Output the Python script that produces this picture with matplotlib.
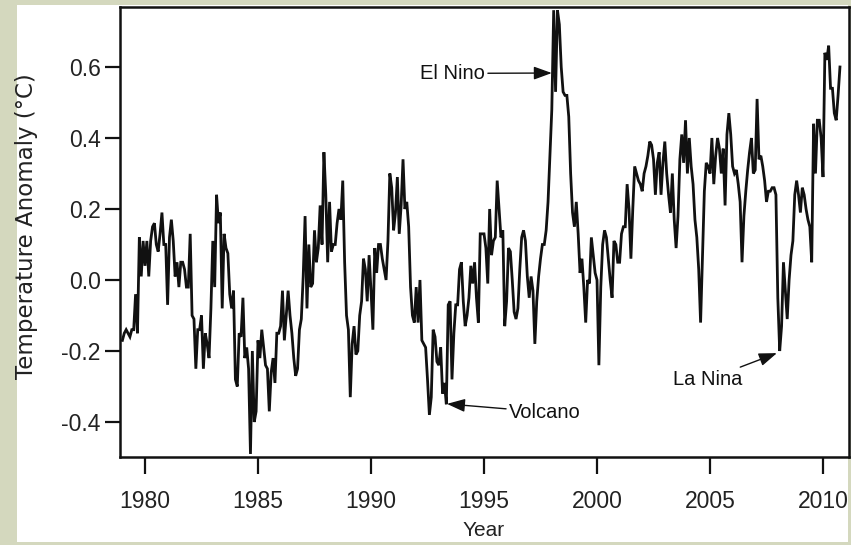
import numpy as np
import matplotlib
matplotlib.use("Agg")
import matplotlib.pyplot as plt
from matplotlib.patches import Rectangle

# Monthly temperature anomalies (deg C), Jan 1979 onward
anom_1979_1989 = [
    -0.17, -0.15, -0.14, -0.15, -0.16, -0.14, -0.14, -0.04, -0.15, 0.12, 0.01, 0.11,
    0.04, 0.11, 0.01, 0.11, 0.15, 0.16, 0.10, 0.08, 0.13, 0.19, 0.10, 0.10,
    -0.07, 0.12, 0.17, 0.11, 0.01, 0.05, -0.02, 0.05, 0.05, 0.03, -0.02, -0.02,
    0.13, -0.10, -0.11, -0.25, -0.14, -0.14, -0.10, -0.25, -0.15, -0.18, -0.22, -0.08,
    0.11, -0.02, 0.24, 0.16, 0.19, -0.08, 0.13, 0.09, 0.075, -0.04, -0.08, -0.03,
    -0.28, -0.30, -0.15, -0.16, -0.05, -0.22, -0.19, -0.25, -0.49, -0.20, -0.40, -0.37,
    -0.17, -0.22, -0.14, -0.19, -0.24, -0.25, -0.37, -0.26, -0.22, -0.29, -0.15, -0.15,
    -0.13, -0.03, -0.17, -0.10, -0.03, -0.10, -0.15, -0.22, -0.27, -0.25, -0.14, -0.11,
    0.01, 0.18, -0.08, 0.10, -0.02, -0.01, 0.14, 0.05, 0.09, 0.21, 0.10, 0.36,
    0.24, 0.05, 0.22, 0.08, 0.10, 0.10, 0.16, 0.20, 0.17, 0.28, 0.05, -0.10,
    -0.14, -0.33, -0.18, -0.13, -0.21, -0.20, -0.10, -0.06, 0.06, 0.03, -0.06, 0.07,
]
anom_1990_1999 = [
    -0.03, -0.14, 0.09, 0.02, 0.10, 0.10, 0.06, 0.03, 0.00, 0.11, 0.30, 0.26,
    0.14, 0.19, 0.29, 0.13, 0.21, 0.34, 0.20, 0.22, 0.15, -0.02, -0.10, -0.12,
    -0.02, -0.12, 0.00, -0.17, -0.18, -0.19, -0.28, -0.38, -0.33, -0.14, -0.16, -0.23,
    -0.24, -0.19, -0.32, -0.29, -0.35, -0.07, -0.06, -0.28, -0.15, -0.07, -0.07, 0.03,
    0.05, -0.06, -0.13, -0.10, -0.05, 0.04, -0.01, 0.05, -0.05, -0.12, 0.13, 0.13,
    0.13, 0.09, -0.01, 0.20, 0.07, 0.11, 0.12, 0.28, 0.20, 0.12, 0.14, -0.13,
    -0.06, 0.09, 0.08, 0.00, -0.09, -0.11, -0.08, 0.03, 0.12, 0.14, 0.11, 0.01,
    -0.05, 0.01, -0.03, -0.18, -0.06, 0.01, 0.06, 0.10, 0.10, 0.14, 0.22, 0.35,
    0.48, 0.76, 0.53, 0.76, 0.72, 0.60, 0.53, 0.52, 0.52, 0.46, 0.30, 0.19,
    0.15, 0.22, 0.13, 0.02, 0.06, -0.02, -0.12, 0.00, -0.01, 0.12, 0.07, 0.02,
]
anom_2000_2010 = [
    0.00, -0.24, -0.02, 0.10, 0.14, 0.12, 0.06, 0.00, -0.05, 0.11, 0.10, 0.05,
    0.05, 0.13, 0.15, 0.15, 0.27, 0.20, 0.06, 0.20, 0.32, 0.30, 0.28, 0.27,
    0.25, 0.30, 0.32, 0.35, 0.39, 0.38, 0.34, 0.24, 0.33, 0.36, 0.24, 0.33,
    0.39, 0.30, 0.24, 0.19, 0.30, 0.17, 0.09, 0.18, 0.34, 0.41, 0.33, 0.45,
    0.30, 0.40, 0.32, 0.27, 0.17, 0.12, 0.03, -0.12, 0.07, 0.25, 0.33, 0.32,
    0.30, 0.40, 0.27, 0.35, 0.40, 0.37, 0.30, 0.37, 0.21, 0.41, 0.47, 0.41,
    0.32, 0.30, 0.31, 0.27, 0.22, 0.05, 0.18, 0.25, 0.31, 0.36, 0.40, 0.30,
    0.31, 0.51, 0.34, 0.35, 0.32, 0.28, 0.22, 0.25, 0.25, 0.26, 0.26, 0.24,
    -0.05, -0.20, -0.13, 0.05, -0.03, -0.11, 0.00, 0.07, 0.11, 0.24, 0.28, 0.24,
    0.19, 0.26, 0.24, 0.20, 0.17, 0.15, 0.05, 0.44, 0.30, 0.45, 0.45, 0.40,
    0.29, 0.64, 0.62, 0.66, 0.54, 0.54, 0.47, 0.45, 0.52, 0.60,
]
start_year = 1979

x_ticks = [1980, 1985, 1990, 1995, 2000, 2005, 2010]
y_ticks = [-0.4, -0.2, 0.0, 0.2, 0.4, 0.6]

# annotations: label, arrow tip (year, value), text anchor (year, value)
event_labels = ["El Nino", "Volcano", "La Nina"]
event_tips = [(1998.0, 0.583), (1993.36, -0.349), (2007.96, -0.206)]
event_text = [(1995.05, 0.582), (1996.1, -0.372), (2006.45, -0.28)]
event_ha = ["right", "left", "right"]

anomaly = np.array(anom_1979_1989 + anom_1990_1999 + anom_2000_2010)
time = start_year + np.arange(len(anomaly)) / 12.0

W, H = 851, 545
fig = plt.figure(figsize=(W / 100, H / 100), dpi=100)
fig.patch.set_facecolor("#d4d8be")
# white card behind the chart
fig.patches.append(Rectangle((17 / W, 1 - 542 / H), (848 - 17) / W, (542 - 5) / H,
                             transform=fig.transFigure, facecolor="white",
                             edgecolor="none", zorder=-10))

ax = fig.add_axes([120 / W, 1 - 457 / H, (849 - 120) / W, (457 - 7) / H])
ax.set_zorder(1)
ax.plot(time, anomaly, color="#111111", lw=2.0, solid_joinstyle="miter")

ax.set_xlim(1978.894, 2011.15)
ax.set_ylim(-0.4986, 0.769)
ax.set_xticks(x_ticks)
ax.set_yticks(y_ticks)
ax.set_yticklabels([f"{v:.1f}" for v in y_ticks])

for s in ax.spines.values():
    s.set_linewidth(1.8)
    s.set_color("#111111")
ax.tick_params(axis="x", direction="out", length=12, width=1.6, pad=12,
               colors="#111111")
ax.tick_params(axis="y", direction="out", length=10.5, width=1.6, pad=3.5,
               colors="#111111")
for lab in ax.get_xticklabels() + ax.get_yticklabels():
    lab.set_fontfamily("Liberation Sans")
    lab.set_fontsize(16.5)
    lab.set_color("#222222")

fig.text(27 / W, 1 - 226 / H, "Temperature Anomaly (°C)", rotation=90,
         ha="center", va="center", fontsize=16.5, family="DejaVu Sans",
         color="#222222")
fig.text(484 / W, 1 - 521 / H, "Year", ha="center", va="top",
         fontsize=15, family="Liberation Sans", color="#222222")

for lab, tip, txt, ha in zip(event_labels, event_tips, event_text, event_ha):
    ax.annotate(lab, xy=tip, xytext=txt, ha=ha, va="center",
                fontsize=14.5, family="Liberation Sans", color="#111111",
                arrowprops=dict(arrowstyle="-|>,head_length=0.55,head_width=0.2",
                                mutation_scale=20, color="#111111", lw=1.0,
                                shrinkA=0, shrinkB=0))

fig.savefig("out.png", dpi=100, facecolor=fig.get_facecolor())
